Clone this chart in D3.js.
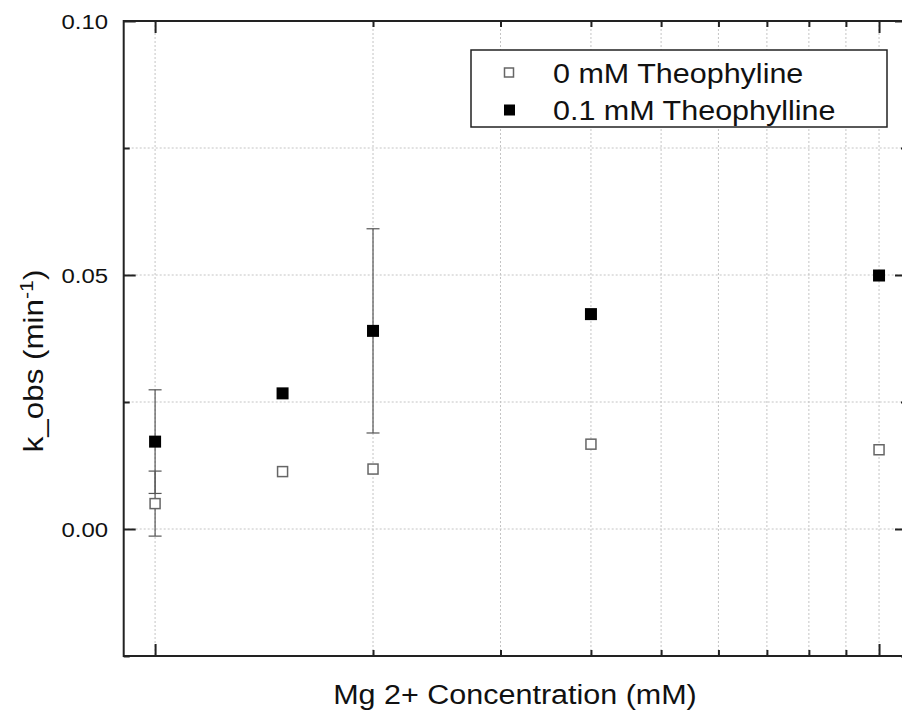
<!DOCTYPE html>
<html>
<head>
<meta charset="utf-8">
<title>k_obs vs Mg 2+</title>
<script src="https://cdn.jsdelivr.net/npm/d3@7"></script>
<style>
  body{margin:0;background:#fff;}
  text{font-family:"Liberation Sans",Arial,sans-serif;fill:#111;}
</style>
</head>
<body>
<div id="container"></div>
<script>
// Mg2+ concentration (mM)
var concentration = [1, 1.5, 2, 4, 10];
// 0 mM theophylline
var kNoTheo    = [0.0050, 0.0113, 0.0118, 0.0167, 0.0156];
var kNoTheoErr = [0.0064, null, null, null, null];
// 0.1 mM theophylline
var kTheo      = [0.0172, 0.0267, 0.0390, 0.0423, 0.0499];
var kTheoErr   = [0.0102, null, 0.0201, null, null];

var seriesNames = ["0 mM Theophyline", "0.1 mM Theophylline"];
var yTicks = [0.00, 0.05, 0.10];
var yMinorTicks = [-0.025, 0.025, 0.075];
var xMajorTicks = [1, 10];
var xMinorTicks = [2, 3, 4, 5, 6, 7, 8, 9];

var W = 902, H = 715;
var pl = 123.7, pr = 907, pt = 21, pb = 656;

var svg = d3.select("#container").append("svg")
    .attr("width", W).attr("height", H);

var x = d3.scaleLog().domain([0.905, 10.93]).range([pl, pr]);
var y = d3.scaleLinear().domain([-0.025, 0.10]).range([pb, pt]);

var allX = xMajorTicks.concat(xMinorTicks);
var gridY = yTicks.concat(yMinorTicks).filter(d => d > -0.025 && d < 0.10);

// grid
var grid = svg.append("g").attr("stroke", "#c4c4c4").attr("stroke-width", 1)
    .attr("stroke-dasharray", "2,2");
grid.selectAll(".vg").data(allX).enter().append("line")
    .attr("x1", d => x(d)).attr("x2", d => x(d))
    .attr("y1", pt).attr("y2", pb);
grid.selectAll(".hg").data(gridY).enter().append("line")
    .attr("x1", pl).attr("x2", pr)
    .attr("y1", d => y(d)).attr("y2", d => y(d));

// axes: ticks inward on all four sides
function styleAxis(g){
  g.select(".domain").remove();
  g.selectAll(".tick line").attr("stroke", "#222").attr("stroke-width", 2);
  g.selectAll(".tick text").remove();
}
svg.append("g").attr("transform", "translate(0," + pb + ")")
  .call(d3.axisTop(x).tickValues(xMajorTicks).tickSize(12)).call(styleAxis);
svg.append("g").attr("transform", "translate(0," + pb + ")")
  .call(d3.axisTop(x).tickValues(xMinorTicks).tickSize(6)).call(styleAxis);
svg.append("g").attr("transform", "translate(0," + pt + ")")
  .call(d3.axisBottom(x).tickValues(xMajorTicks).tickSize(12)).call(styleAxis);
svg.append("g").attr("transform", "translate(0," + pt + ")")
  .call(d3.axisBottom(x).tickValues(xMinorTicks).tickSize(6)).call(styleAxis);
svg.append("g").attr("transform", "translate(" + pl + ",0)")
  .call(d3.axisRight(y).tickValues(yTicks).tickSize(12)).call(styleAxis);
svg.append("g").attr("transform", "translate(" + pl + ",0)")
  .call(d3.axisRight(y).tickValues(yMinorTicks).tickSize(6)).call(styleAxis);
svg.append("g").attr("transform", "translate(" + pr + ",0)")
  .call(d3.axisLeft(y).tickValues(yTicks).tickSize(12)).call(styleAxis);
svg.append("g").attr("transform", "translate(" + pr + ",0)")
  .call(d3.axisLeft(y).tickValues(yMinorTicks).tickSize(6)).call(styleAxis);

svg.append("rect")
  .attr("x", pl).attr("y", pt)
  .attr("width", pr - pl).attr("height", pb - pt)
  .attr("fill", "none").attr("stroke", "#222").attr("stroke-width", 2);

// y tick labels
svg.selectAll(".ylab").data(yTicks).enter().append("text")
  .attr("text-anchor", "end")
  .attr("transform", d => "translate(108," + (y(d) + 7.5) + ") scale(1.14,1)")
  .style("font-size", "21px")
  .text(d3.format(".2f"));

// error bars
function errBars(vals, errs){
  var pts = concentration.map((c, i) => ({c: c, v: vals[i], e: errs[i]})).filter(d => d.e != null);
  var g = svg.append("g").attr("stroke", "#555").attr("stroke-width", 1.2);
  g.selectAll(".eb").data(pts).enter().append("line")
    .attr("x1", d => x(d.c)).attr("x2", d => x(d.c))
    .attr("y1", d => y(d.v - d.e)).attr("y2", d => y(d.v + d.e));
  [1, -1].forEach(function(s){
    g.selectAll(".cap").data(pts).enter().append("line")
      .attr("x1", d => x(d.c) - 6.5).attr("x2", d => x(d.c) + 6.5)
      .attr("y1", d => y(d.v + s * d.e)).attr("y2", d => y(d.v + s * d.e));
  });
}
errBars(kTheo, kTheoErr);
errBars(kNoTheo, kNoTheoErr);

// markers
svg.selectAll(".open").data(concentration).enter().append("rect")
  .attr("x", (d, i) => x(d) - 5).attr("y", (d, i) => y(kNoTheo[i]) - 5)
  .attr("width", 10).attr("height", 10)
  .attr("fill", "#fff").attr("stroke", "#666").attr("stroke-width", 1.5);
svg.selectAll(".filled").data(concentration).enter().append("rect")
  .attr("x", (d, i) => x(d) - 6).attr("y", (d, i) => y(kTheo[i]) - 6)
  .attr("width", 12).attr("height", 12)
  .attr("fill", "#000");

// legend
var leg = svg.append("g");
leg.append("rect").attr("x", 471).attr("y", 50).attr("width", 416).attr("height", 77)
  .attr("fill", "#fff").attr("stroke", "#222").attr("stroke-width", 1.5);
leg.append("rect").attr("x", 504.5).attr("y", 68).attr("width", 9).attr("height", 9)
  .attr("fill", "#fff").attr("stroke", "#666").attr("stroke-width", 1.5);
leg.append("rect").attr("x", 504).attr("y", 104.5).attr("width", 11).attr("height", 11)
  .attr("fill", "#000");
leg.selectAll(".lt").data(seriesNames).enter().append("text")
  .attr("transform", (d, i) => "translate(553," + (83 + i * 37) + ") scale(1.13,1)")
  .style("font-size", "27px")
  .text(d => d);

// axis titles
svg.append("text")
  .attr("text-anchor", "middle")
  .attr("transform", "translate(515,704) scale(1.09,1)")
  .style("font-size", "28px")
  .text("Mg 2+ Concentration (mM)");

var yt = svg.append("text")
  .attr("text-anchor", "middle")
  .attr("transform", "translate(43,361) rotate(-90) scale(1.12,1)")
  .style("font-size", "28px");
yt.append("tspan").text("k_obs (min");
yt.append("tspan").attr("dy", -10).style("font-size", "19px").text("-1");
yt.append("tspan").attr("dy", 10).text(")");
</script>
</body>
</html>
